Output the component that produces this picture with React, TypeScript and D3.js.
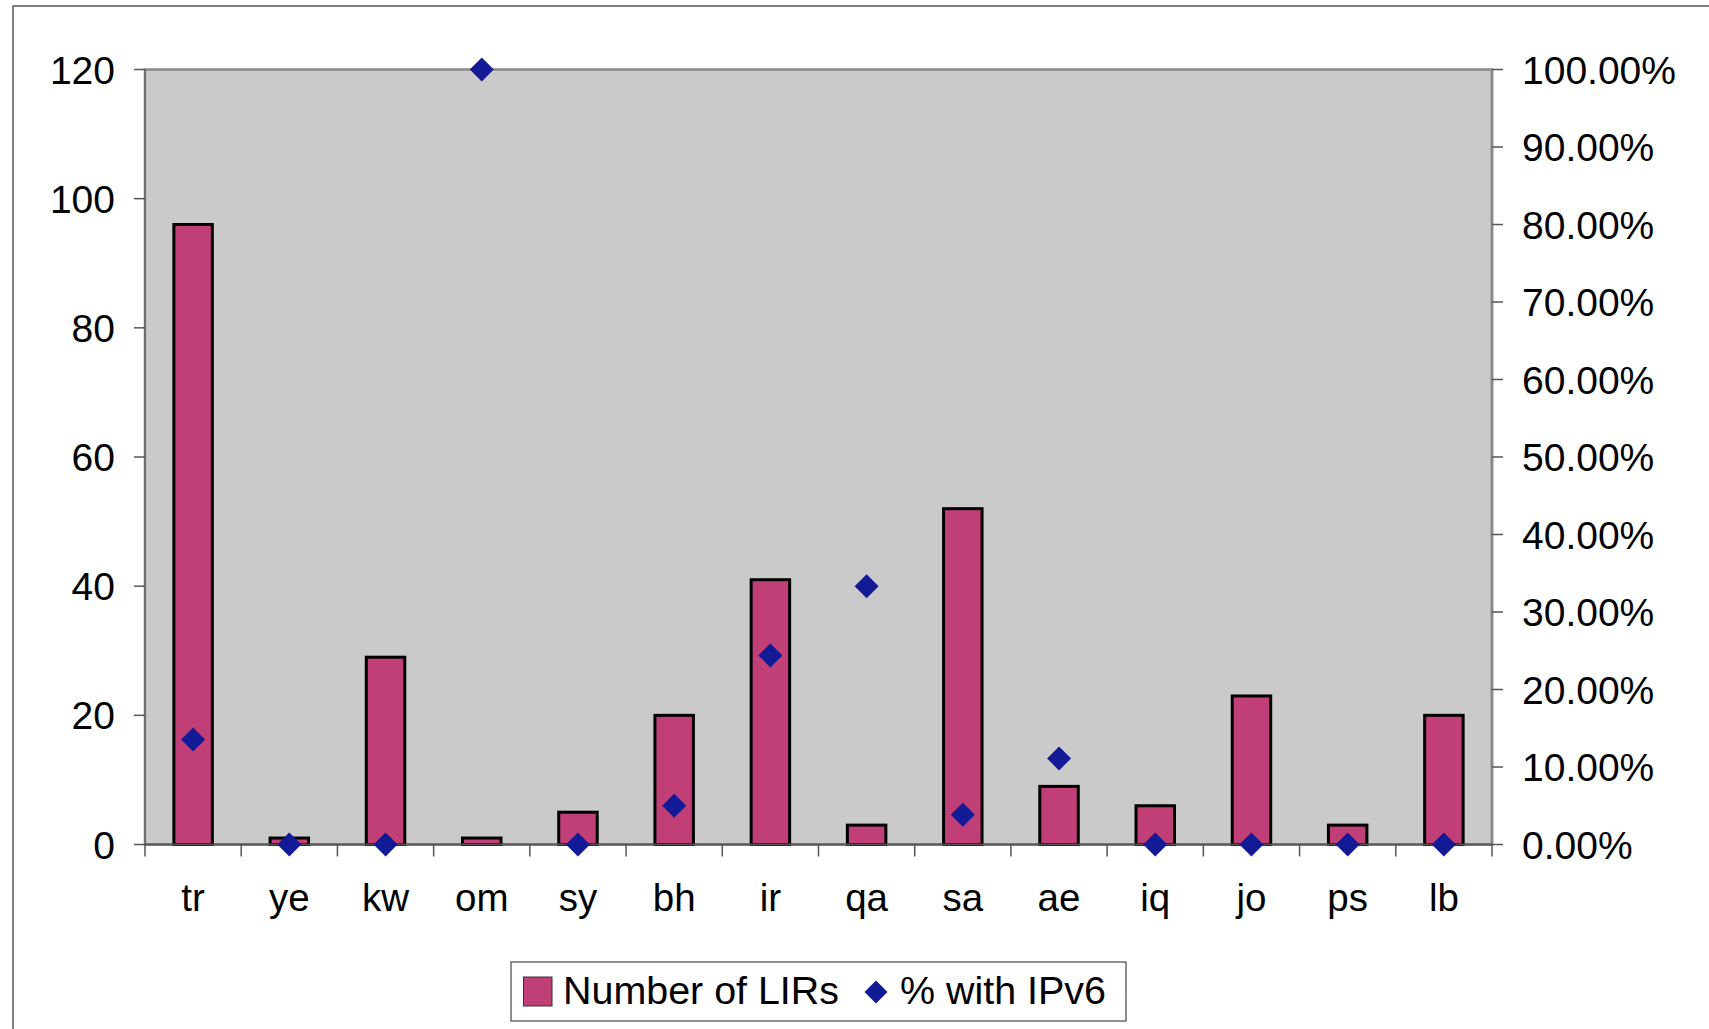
import React from "react";
import * as d3 from "d3";

const categories = ["tr", "ye", "kw", "om", "sy", "bh", "ir", "qa", "sa", "ae", "iq", "jo", "ps", "lb"];
const lirCounts = [96, 1, 29, 1, 5, 20, 41, 3, 52, 9, 6, 23, 3, 20];
const ipv6Share = [0.1354, 0, 0, 1.0, 0, 0.05, 0.2439, 0.3333, 0.0385, 0.1111, 0, 0, 0, 0];
const leftTicks = [0, 20, 40, 60, 80, 100, 120];
const rightTicks = [0, 0.1, 0.2, 0.3, 0.4, 0.5, 0.6, 0.7, 0.8, 0.9, 1.0];
const seriesNames = ["Number of LIRs", "% with IPv6"];

const W = 1709;
const H = 1029;
const FONT = "'Liberation Sans', Arial, 'Helvetica', sans-serif";
const BAR_COLOR = "#bf3f76";
const DIAMOND_COLOR = "#131a96";
const PLOT_BG = "#cacaca";

export default function App() {
  const left = 145;
  const right = 1492;
  const top = 69.5;
  const bottom = 844.5;

  const x = d3.scaleBand<string>().domain(categories).range([left, right]).paddingInner(0).paddingOuter(0);
  const yL = d3.scaleLinear().domain([0, 120]).range([bottom, top]);
  const yR = d3.scaleLinear().domain([0, 1]).range([bottom, top]);
  const bw = x.bandwidth();
  const barW = bw * 0.4;
  const pctFmt = d3.format(".2%");

  const diamond = (cx: number, cy: number, hw: number, hh: number) =>
    `M${cx},${cy - hh}L${cx + hw},${cy}L${cx},${cy + hh}L${cx - hw},${cy}Z`;

  const boundaries = d3.range(categories.length + 1).map((i) => left + i * bw);

  return (
    <svg
      width={W}
      height={H}
      style={{ position: "absolute", left: 0, top: 0, display: "block", background: "#fff" }}
      fontFamily={FONT}
    >
      {/* outer chart frame (cut off at right/bottom) */}
      <rect x={13} y={6} width={W + 20} height={H + 20} fill="#fff" stroke="#555" strokeWidth={1.5} />

      {/* plot area */}
      <rect x={left} y={top} width={right - left} height={bottom - top} fill={PLOT_BG} stroke="#8a8a8a" strokeWidth={2.5} />

      {/* bars */}
      {lirCounts.map((v, i) => {
        const cx = (x(categories[i]) as number) + bw / 2;
        return (
          <rect
            key={"b" + i}
            x={cx - barW / 2}
            y={yL(v)}
            width={barW}
            height={bottom - yL(v)}
            fill={BAR_COLOR}
            stroke="#000"
            strokeWidth={3}
          />
        );
      })}

      {/* left axis */}
      <line x1={left} x2={left} y1={top} y2={bottom} stroke="#666" strokeWidth={1.5} />
      {leftTicks.map((t) => (
        <g key={"lt" + t}>
          <line x1={left - 11} x2={left} y1={yL(t)} y2={yL(t)} stroke="#555" strokeWidth={1.5} />
          <text x={115} y={yL(t)} dy="0.36em" textAnchor="end" fontSize={39} fill="#000">
            {t}
          </text>
        </g>
      ))}

      {/* right axis */}
      <line x1={right} x2={right} y1={top} y2={bottom} stroke="#888" strokeWidth={2.5} />
      {rightTicks.map((t) => (
        <g key={"rt" + t}>
          <line x1={right} x2={right + 11} y1={yR(t)} y2={yR(t)} stroke="#555" strokeWidth={1.5} />
          <text x={1522} y={yR(t)} dy="0.36em" textAnchor="start" fontSize={39} fill="#000">
            {pctFmt(t)}
          </text>
        </g>
      ))}

      {/* bottom axis */}
      <line x1={left} x2={right} y1={bottom} y2={bottom} stroke="#555" strokeWidth={2} />
      {boundaries.map((bx, i) => (
        <line key={"xt" + i} x1={bx} x2={bx} y1={bottom} y2={bottom + 12} stroke="#555" strokeWidth={1.5} />
      ))}
      {categories.map((c) => (
        <text key={"xl" + c} x={(x(c) as number) + bw / 2} y={911} textAnchor="middle" fontSize={38.5} fill="#000">
          {c}
        </text>
      ))}

      {/* diamonds */}
      {ipv6Share.map((p, i) => {
        const cx = (x(categories[i]) as number) + bw / 2;
        return <path key={"d" + i} d={diamond(cx, yR(p), 12, 12)} fill={DIAMOND_COLOR} />;
      })}

      {/* legend */}
      <rect x={511} y={962} width={615} height={59} fill="#fff" stroke="#444" strokeWidth={1.2} />
      <rect x={523.5} y={977} width={28.5} height={29} fill={BAR_COLOR} stroke="#333" strokeWidth={1} />
      <text x={563} y={1004} fontSize={38.5} textLength={276} lengthAdjust="spacingAndGlyphs" fill="#000">
        {seriesNames[0]}
      </text>
      <path d={diamond(876, 992, 11.5, 11.5)} fill={DIAMOND_COLOR} />
      <text x={900} y={1004} fontSize={38.5} textLength={206} lengthAdjust="spacingAndGlyphs" fill="#000">
        {seriesNames[1]}
      </text>
    </svg>
  );
}
